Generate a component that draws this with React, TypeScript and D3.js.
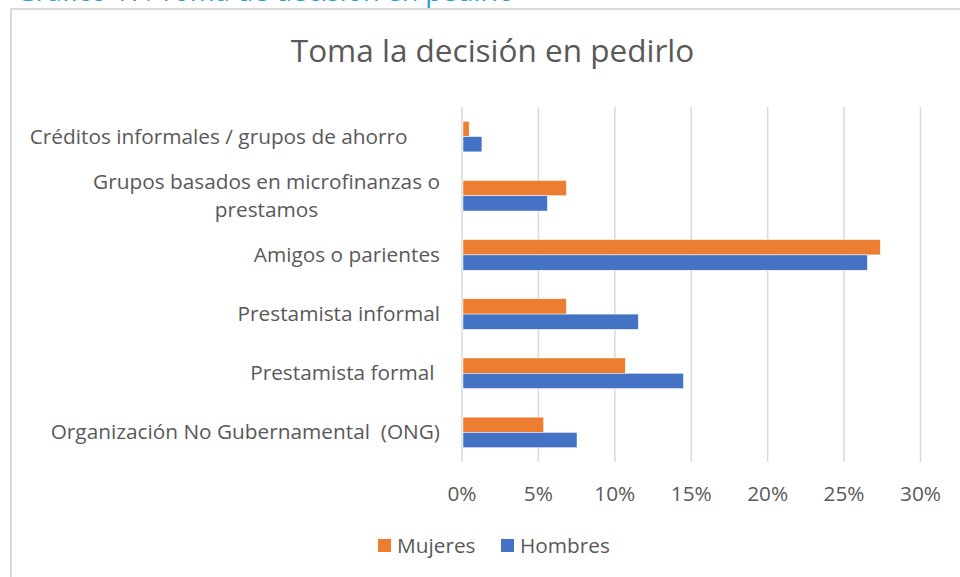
import React from "react";
import * as d3 from "d3";

const categories = [
  "Créditos informales / grupos de ahorro",
  "Grupos basados en microfinanzas o prestamos",
  "Amigos o parientes",
  "Prestamista informal",
  "Prestamista formal ",
  "Organización No Gubernamental  (ONG)",
];
const labelLines: string[][] = [
  ["Créditos informales / grupos de ahorro      "],
  ["Grupos basados en microfinanzas o", "prestamos"],
  ["Amigos o parientes"],
  ["Prestamista informal"],
  ["Prestamista formal "],
  ["Organización No Gubernamental  (ONG)"],
];
const mujeres = [0.004, 0.0676, 0.273, 0.0676, 0.1062, 0.0528];
const hombres = [0.0124, 0.0552, 0.2646, 0.1147, 0.1442, 0.0746];
const ticks = [0, 0.05, 0.1, 0.15, 0.2, 0.25, 0.3];
const seriesNames = ["Mujeres", "Hombres"];
const colors = ["#ED7D31", "#4472C4"];
const title = "Toma la decisión en pedirlo";
const caption = "Gráfico 17. Toma de decisión en pedirlo";

const FONT = "'Open Sans', 'Noto Sans', sans-serif";

function measure(text: string, size: number) {
  const c = document.createElement("canvas").getContext("2d");
  if (!c) return text.length * size * 0.5;
  c.font = `${size}px 'Open Sans'`;
  return c.measureText(text).width;
}

export default function App() {
  const x = d3.scaleLinear().domain([0, 0.3]).range([462, 920.5]);
  const y = d3
    .scaleBand<string>()
    .domain(categories)
    .range([107, 462])
    .paddingInner(0.483)
    .paddingOuter(0.2415);
  const bh = y.bandwidth() / 2;
  const labelSize = 20.8;
  const labelRight = 440;
  const textColor = "#595959";

  return (
    <svg
      width={960}
      height={577}
      style={{ position: "absolute", left: 0, top: 0, background: "#fff" }}
      fontFamily={FONT}
    >
      <rect x={0} y={0} width={960} height={577} fill="#fff" />
      <text x={16} y={1} fontSize={27} fill="#1BA1E2">
        {caption}
      </text>
      <rect
        x={11}
        y={9}
        width={1000}
        height={600}
        fill="#fff"
        stroke="#D9D9D9"
        strokeWidth={2}
      />
      <text
        x={492.5}
        y={62}
        textAnchor="middle"
        fontSize={31.5}
        fill={textColor}
      >
        {title}
      </text>
      {ticks.map((t) => (
        <g key={t}>
          <line
            x1={x(t)}
            x2={x(t)}
            y1={107}
            y2={462}
            stroke="#D9D9D9"
            strokeWidth={1.5}
          />
          <text
            x={x(t)}
            y={500.5}
            textAnchor="middle"
            fontSize={labelSize}
            fill={textColor}
          >
            {d3.format(".0%")(t)}
          </text>
        </g>
      ))}
      {categories.map((c, i) => {
        const y0 = y(c) as number;
        const cy = y0 + y.bandwidth() / 2;
        const lines = labelLines[i];
        return (
          <g key={c}>
            <rect
              x={x(0) + 1}
              y={y0}
              width={x(mujeres[i]) - x(0)}
              height={bh}
              fill={colors[0]}
              stroke="#fff"
              strokeWidth={0.5}
            />
            <rect
              x={x(0) + 1}
              y={y0 + bh}
              width={x(hombres[i]) - x(0)}
              height={bh}
              fill={colors[1]}
              stroke="#fff"
              strokeWidth={0.5}
            />
            {lines.length === 1 ? (
              <text
                x={labelRight}
                y={cy + 7}
                textAnchor="end"
                fontSize={labelSize}
                fill={textColor}
                style={{ whiteSpace: "pre" }}
              >
                {lines[0]}
              </text>
            ) : (
              (() => {
                const w = measure(lines[0], labelSize);
                const mid = labelRight - w / 2;
                return lines.map((l, k) => (
                  <text
                    key={k}
                    x={mid}
                    y={cy + 7 + (k - (lines.length - 1) / 2) * 28}
                    textAnchor="middle"
                    fontSize={labelSize}
                    fill={textColor}
                    style={{ whiteSpace: "pre" }}
                  >
                    {l}
                  </text>
                ));
              })()
            )}
          </g>
        );
      })}
      {seriesNames.map((s, i) => {
        const lx = [378, 501][i];
        return (
          <g key={s}>
            <rect x={lx} y={539} width={13} height={13} fill={colors[i]} />
            <text x={lx + 19} y={552.5} fontSize={labelSize} fill={textColor}>
              {s}
            </text>
          </g>
        );
      })}
    </svg>
  );
}
